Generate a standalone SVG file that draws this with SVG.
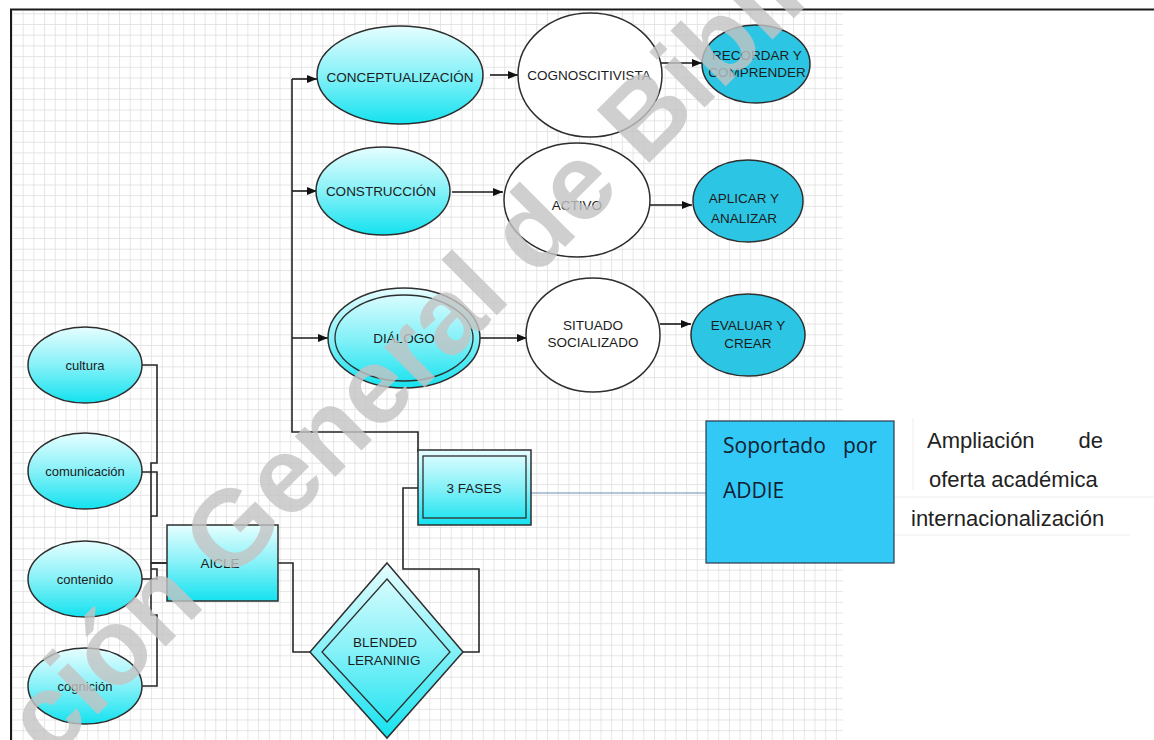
<svg xmlns="http://www.w3.org/2000/svg" width="1154" height="740" viewBox="0 0 1154 740">
  <style>
    .lbl { font-family: "Liberation Sans", Arial, sans-serif; font-size: 13.5px; fill: #1c1c1c; text-anchor: middle; }
    .low { font-size: 13px; }
    .shape { stroke: #2e2e2e; stroke-width: 1.5; }
    .cyan { fill: url(#cyanGrad); }
    .teal { fill: #2cc6e4; }
    .white { fill: #ffffff; }
    .inner { fill: none; stroke: #2e2e2e; stroke-width: 1.3; }
    .wire { fill: none; stroke: #262626; stroke-width: 1.6; }
    .arrow { fill: none; stroke: #1a1a1a; stroke-width: 1.6; marker-end: url(#head); }
    .side { font-family: "Liberation Sans", Arial, sans-serif; font-size: 22px; fill: #222; }
    .box { font-family: "Open Sans", "Noto Sans", sans-serif; font-size: 21px; fill: #102030; }
    .watermark { font-family: "Liberation Sans", Arial, sans-serif; font-size: 108px; font-weight: bold; fill: #c4c4c4; opacity: 0.8; }
  </style>
  <defs>
    <linearGradient id="cyanGrad" x1="0" y1="0" x2="0" y2="1">
      <stop offset="0" stop-color="#e6feff"/>
      <stop offset="0.5" stop-color="#86f1f8"/>
      <stop offset="1" stop-color="#14e2ef"/>
    </linearGradient>
    <pattern id="grid" width="10.7" height="10.7" x="1.3" y="2.6" patternUnits="userSpaceOnUse">
      <path d="M0 0H10.7M0 0V10.7" fill="none" stroke="#dddddd" stroke-width="1.4"/>
    </pattern>
    <marker id="head" viewBox="0 0 10 8" refX="10" refY="4" markerWidth="10" markerHeight="8" markerUnits="userSpaceOnUse" orient="auto">
      <path d="M0,0 L10,4 L0,8 z" fill="#111"/>
    </marker>
  </defs>

  <!-- page background and grid sheet -->
  <rect x="0" y="0" width="1154" height="740" fill="#ffffff"/>
  <rect x="12" y="11" width="831" height="729" fill="url(#grid)"/>
  <path d="M10,9.5 H1154" stroke="#1a1a1a" stroke-width="2.2" fill="none"/>
  <path d="M11,9 V740" stroke="#1a1a1a" stroke-width="2" fill="none"/>

  <!-- faint table cell rules around the side note -->
  <g fill="none" stroke="#eeeeee" stroke-width="1">
    <path d="M913,418 V490"/>
    <path d="M894,497 H1154"/>
    <path d="M894,535 H1130"/>
  </g>

  <!-- connectors -->
  <g id="connectors">
    <path class="wire" d="M292,79 V432 H418 V452"/>
    <path class="arrow" d="M292,79 H317"/>
    <path class="arrow" d="M292,191 H317"/>
    <path class="arrow" d="M292,338 H328"/>
    <path class="arrow" d="M490,75 H518"/>
    <path class="arrow" d="M658,63 H702"/>
    <path class="arrow" d="M452,192 H503"/>
    <path class="arrow" d="M650,205 H692"/>
    <path class="arrow" d="M480,338 H527"/>
    <path class="arrow" d="M660,324 H691"/>
    <path class="wire" d="M142,365 H157 V463 H151 V563 H167"/>
    <path class="wire" d="M142,472 H157 V516 H151"/>
    <path class="wire" d="M142,579 H157 V569 H151"/>
    <path class="wire" d="M142,686 H157 V615 H151 V563"/>
    <path class="wire" d="M151,563 H167" stroke-width="2.6"/>
    <path class="wire" d="M278,563 H293 V652 H310"/>
    <path class="wire" d="M418,488 H403 V569 H479 V652 H463"/>
    <path d="M531,493 H706" fill="none" stroke="#6f8db3" stroke-width="1.2"/>
  </g>

  <!-- nodes -->
  <g id="conceptualizacion">
    <ellipse class="shape cyan" cx="400" cy="75" rx="83" ry="49"/>
    <text class="lbl" x="400" y="82">CONCEPTUALIZACIÓN</text>
  </g>
  <g id="cognoscitivista">
    <ellipse class="shape white" cx="590" cy="75" rx="72" ry="62"/>
    <text class="lbl" x="589" y="80">COGNOSCITIVISTA</text>
  </g>
  <g id="recordar">
    <ellipse class="shape teal" cx="756" cy="64" rx="54" ry="39"/>
    <text class="lbl" x="757" y="60">RECORDAR Y</text>
    <text class="lbl" x="757" y="77">COMPRENDER</text>
  </g>
  <g id="construccion">
    <ellipse class="shape cyan" cx="383" cy="191" rx="67" ry="44"/>
    <text class="lbl" x="381" y="196">CONSTRUCCIÓN</text>
  </g>
  <g id="activo">
    <ellipse class="shape white" cx="577" cy="200" rx="73" ry="57"/>
    <text class="lbl" x="577" y="210">ACTIVO</text>
  </g>
  <g id="aplicar">
    <ellipse class="shape teal" cx="748" cy="201" rx="55" ry="41"/>
    <text class="lbl" x="744" y="203">APLICAR Y</text>
    <text class="lbl" x="744" y="223">ANALIZAR</text>
  </g>
  <g id="dialogo">
    <ellipse class="shape cyan" cx="404" cy="338" rx="76" ry="50"/>
    <ellipse class="inner" cx="404" cy="338" rx="69" ry="43"/>
    <text class="lbl" x="404" y="343">DIÁLOGO</text>
  </g>
  <g id="situado">
    <ellipse class="shape white" cx="593" cy="335" rx="67" ry="57"/>
    <text class="lbl" x="593" y="330">SITUADO</text>
    <text class="lbl" x="593" y="347">SOCIALIZADO</text>
  </g>
  <g id="evaluar">
    <ellipse class="shape teal" cx="748" cy="335" rx="57" ry="41"/>
    <text class="lbl" x="748" y="330">EVALUAR Y</text>
    <text class="lbl" x="748" y="348">CREAR</text>
  </g>
  <g id="cultura">
    <ellipse class="shape cyan" cx="85" cy="365" rx="57" ry="38"/>
    <text class="lbl low" x="85" y="370">cultura</text>
  </g>
  <g id="comunicacion">
    <ellipse class="shape cyan" cx="85" cy="471" rx="57" ry="38"/>
    <text class="lbl low" x="85" y="476">comunicación</text>
  </g>
  <g id="contenido">
    <ellipse class="shape cyan" cx="85" cy="579" rx="57" ry="38"/>
    <text class="lbl low" x="85" y="584">contenido</text>
  </g>
  <g id="cognicion">
    <ellipse class="shape cyan" cx="85" cy="686" rx="57" ry="38"/>
    <text class="lbl low" x="85" y="691">cognición</text>
  </g>
  <g id="aicle">
    <rect class="shape cyan" x="167" y="525" width="111" height="76"/>
    <text class="lbl" x="220" y="568">AICLE</text>
  </g>
  <g id="tres-fases">
    <rect class="shape cyan" x="418" y="450" width="113" height="75"/>
    <rect class="inner" x="423" y="456" width="103" height="62"/>
    <text class="lbl" x="474" y="493">3 FASES</text>
  </g>
  <g id="blended">
    <polygon class="shape cyan" points="387,563 463,652 387,738 310,652"/>
    <polygon class="inner" points="387,579 450,652 387,722 322,652"/>
    <text class="lbl" x="385" y="647">BLENDED</text>
    <text class="lbl" x="384" y="665">LERANINIG</text>
  </g>
  <g id="addie">
    <rect x="706" y="421" width="188" height="142" fill="#33c9f7" stroke="#2b3b4c" stroke-width="1.2"/>
    <text class="box" x="723" y="453">Soportado</text>
    <text class="box" x="877" y="453" text-anchor="end">por</text>
    <text class="box" x="723" y="498">ADDIE</text>
  </g>
  <g id="nota">
    <text class="side" x="927" y="448">Ampliación</text>
    <text class="side" x="1103" y="448" text-anchor="end">de</text>
    <text class="side" x="929" y="487">oferta académica</text>
    <text class="side" x="911" y="526">internacionalización</text>
  </g>

  <!-- diagonal watermark -->
  <text class="watermark" transform="translate(50,762) rotate(-45)">ción General de Biblio</text>
</svg>
